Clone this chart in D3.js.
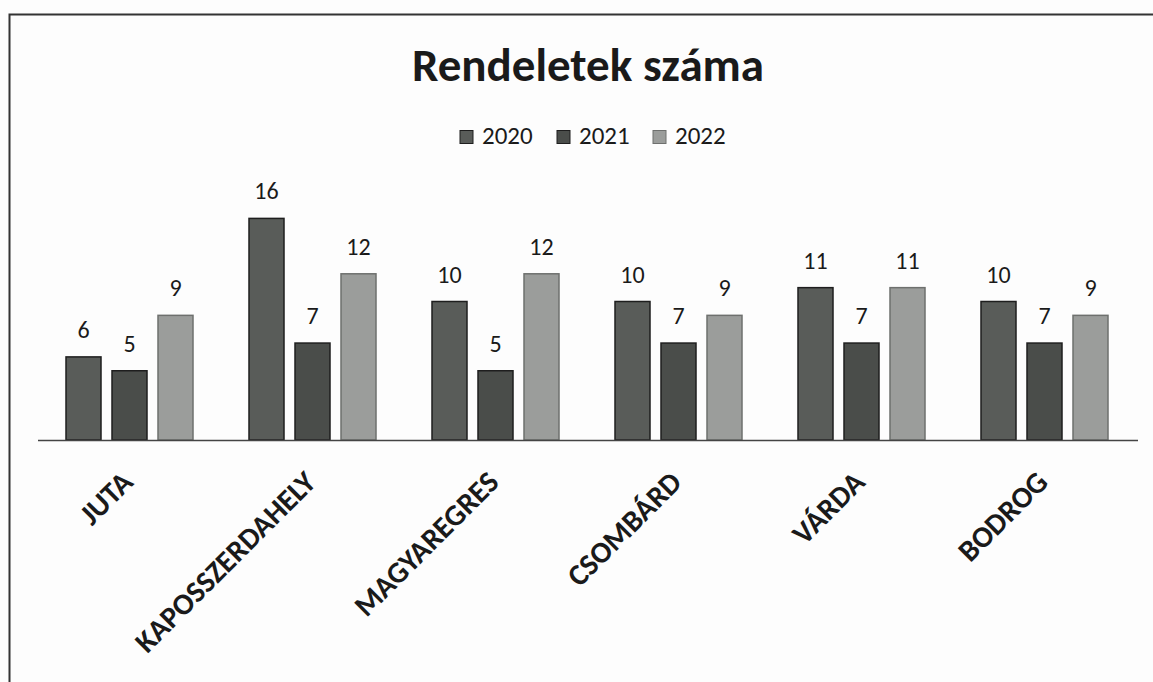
<!DOCTYPE html>
<html>
<head>
<meta charset="utf-8">
<script src="https://cdn.jsdelivr.net/npm/d3@7"></script>
<style>
    body { margin: 0; background: #fdfdfd; }
    svg text { font-family: Carlito, "Open Sans", sans-serif; fill: #1a1a1a; }
</style>
</head>
<body>
<div id="holder"></div>
<script>
const towns = ["JUTA", "KAPOSSZERDAHELY", "MAGYAREGRES", "CSOMBÁRD", "VÁRDA", "BODROG"];
const years = ["2020", "2021", "2022"];
const values2020 = [6, 16, 10, 10, 11, 10];
const values2021 = [5, 7, 5, 7, 7, 7];
const values2022 = [9, 12, 12, 9, 11, 9];

const colors = ["#595c59", "#4a4d4a", "#9b9d9b"];
const strokes = ["#1e1e1e", "#1e1e1e", "#6e706e"];

const w = 1153, h = 682;
const baseY = 440;

const series = [values2020, values2021, values2022];

const svg = d3.select('#holder')
    .append('svg')
    .attr('width', w)
    .attr('height', h);

// scanned frame: top and left edge
svg.append('path')
    .attr('d', `M9.5,${h} V14.5 H${w}`)
    .attr('fill', 'none')
    .attr('stroke', '#333')
    .attr('stroke-width', 2);

const xScale = d3.scaleBand()
    .domain(towns)
    .range([38, 1136]);

const innerScale = d3.scaleBand()
    .domain(years)
    .range([28, 155])
    .paddingInner(11 / 46);

const yScale = d3.scaleLinear()
    .domain([0, 16])
    .range([baseY, baseY - 16 * 13.85]);

svg.append("text")
    .text("Rendeletek száma")
    .attr("x", 588)
    .attr("y", 81)
    .style("text-anchor", "middle")
    .style("font-weight", "bold")
    .style("font-size", "47px");

// legend
const legendX = [460, 557, 653];
const legend = svg.append('g').attr('id', 'legend');
years.forEach((yr, i) => {
    legend.append('rect')
        .attr('x', legendX[i])
        .attr('y', 130.5)
        .attr('width', 13)
        .attr('height', 13)
        .style('fill', colors[i])
        .style('stroke', strokes[i]);
    legend.append('text')
        .text(yr)
        .attr('x', legendX[i] + 22)
        .attr('y', 144)
        .style('font-size', '25px');
});

const groups = svg.selectAll('g.town')
    .data(towns)
    .enter()
    .append('g')
    .attr('class', 'town')
    .attr('transform', d => `translate(${xScale(d)},0)`);

groups.selectAll('rect')
    .data((d, i) => years.map((yr, j) => ({year: yr, idx: j, value: series[j][i]})))
    .enter()
    .append('rect')
    .attr('x', d => innerScale(d.year))
    .attr('y', d => yScale(d.value))
    .attr('width', innerScale.bandwidth())
    .attr('height', d => yScale(0) - yScale(d.value))
    .style('fill', d => colors[d.idx])
    .style('stroke', d => strokes[d.idx])
    .style('stroke-width', 1.5);

groups.selectAll('text.val')
    .data((d, i) => years.map((yr, j) => ({year: yr, value: series[j][i]})))
    .enter()
    .append('text')
    .attr('class', 'val')
    .text(d => d.value)
    .attr('x', d => innerScale(d.year) + innerScale.bandwidth() / 2)
    .attr('y', d => yScale(d.value) - 19)
    .style('text-anchor', 'middle')
    .style('font-size', '24px');

// axis line
svg.append('line')
    .attr('x1', 38)
    .attr('x2', 1138)
    .attr('y1', baseY + 0.5)
    .attr('y2', baseY + 0.5)
    .attr('stroke', '#444')
    .attr('stroke-width', 1.5);

// rotated category labels
svg.selectAll('text.cat')
    .data(towns)
    .enter()
    .append('text')
    .attr('class', 'cat')
    .text(d => d)
    .attr('transform', d => `translate(${xScale(d) + xScale.bandwidth() / 2 + 5},${baseY + 44}) rotate(-45)`)
    .style('text-anchor', 'end')
    .style('font-weight', 'bold')
    .style('font-size', '30px');
</script>
</body>
</html>
